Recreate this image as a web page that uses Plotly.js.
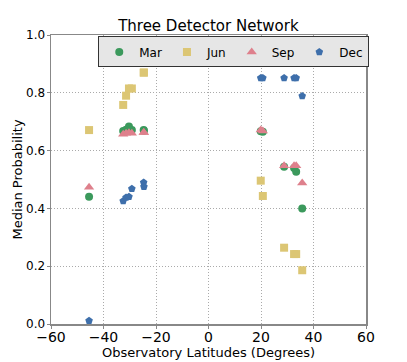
<!DOCTYPE html>
<html>
<head>
<meta charset="utf-8">
<script src="https://cdn.plot.ly/plotly-3.0.1.min.js"></script>
<style>html,body{margin:0;padding:0;background:#fff;}#chart{width:407px;height:362px;}</style>
</head>
<body>
<div id="chart"></div>
<script>
const latitudes = [-45.5, -32.5, -31.4, -30.3, -29.2, -24.7, -24.6, 19.9, 20.7, 28.8, 32.6, 33.4, 35.7];
const seriesNames = ["Mar", "Jun", "Sep", "Dec"];
const marValues = [0.44, 0.668, 0.672, 0.683, 0.671, 0.671, 0.669, 0.667, 0.665, 0.544, 0.54, 0.527, 0.40];
const junValues = [0.671, 0.758, 0.79, 0.815, 0.815, 0.87, 0.87, 0.496, 0.443, 0.264, 0.242, 0.242, 0.186];
const sepValues = [0.473, 0.657, 0.66, 0.662, 0.66, 0.663, 0.663, 0.671, 0.668, 0.548, 0.548, 0.548, 0.488];
const decValues = [0.011, 0.426, 0.438, 0.44, 0.468, 0.49, 0.475, 0.851, 0.851, 0.851, 0.851, 0.851, 0.789];
const xTicks = [-60, -40, -20, 0, 20, 40, 60];
const yTicks = [0.0, 0.2, 0.4, 0.6, 0.8, 1.0];

const values = [marValues, junValues, sepValues, decValues];
const colors = ["#3b995c", "#dcc674", "#de808c", "#3e6fab"];
const symbols = ["circle", "square", "triangle-up", "pentagon"];
const sizes = [8, 8, 9, 8];

const traces = seriesNames.map((name, i) => ({
  type: "scatter", mode: "markers", name: name,
  x: latitudes, y: values[i],
  marker: {symbol: symbols[i], color: colors[i], size: sizes[i], line: {width: 0}}
}));

const font = "DejaVu Sans, sans-serif";
const layout = {
  width: 407, height: 362,
  margin: {l: 51, r: 41, t: 35, b: 38},
  paper_bgcolor: "#fff", plot_bgcolor: "#fff",
  font: {family: font, color: "#000", size: 12},
  title: {text: "Three Detector Network", font: {family: font, size: 15, color: "#000"}, x: 0.512, xanchor: "center", y: 0.93, yanchor: "middle"},
  showlegend: true,
  legend: {orientation: "h", x: 0.15, xanchor: "left", y: 0.995, yanchor: "top",
    bgcolor: "#e6e6e6", bordercolor: "#333", borderwidth: 1,
    font: {family: font, size: 12, color: "#000"},
    traceorder: "normal"},
  xaxis: {range: [-60, 60], tickvals: xTicks, ticktext: xTicks.map(v => v < 0 ? "\u2212" + Math.abs(v) : String(v)),
    showgrid: true, gridcolor: "#aaaaaa", griddash: "1px,2px", gridwidth: 1,
    zeroline: false, showline: true, linecolor: "#888", linewidth: 1.5, mirror: true,
    ticks: "outside", ticklen: 3, tickcolor: "#888", ticklabelstandoff: -3,
    tickfont: {family: font, size: 14, color: "#000"},
    title: {text: "Observatory Latitudes (Degrees)", font: {family: font, size: 13, color: "#000"}, standoff: 0}},
  yaxis: {range: [0, 1], tickvals: yTicks, ticktext: yTicks.map(v => v.toFixed(1)),
    showgrid: true, gridcolor: "#aaaaaa", griddash: "1px,2px", gridwidth: 1,
    zeroline: false, showline: true, linecolor: "#888", linewidth: 1.5, mirror: true,
    ticks: "outside", ticklen: 3, tickcolor: "#888", ticklabelstandoff: -1,
    tickfont: {family: font, size: 12, color: "#000"},
    title: {text: "Median Probability", font: {family: font, size: 13, color: "#000"}, standoff: 0}}
};

Plotly.newPlot("chart", traces, layout, {displayModeBar: false, staticPlot: true});
</script>
</body>
</html>
